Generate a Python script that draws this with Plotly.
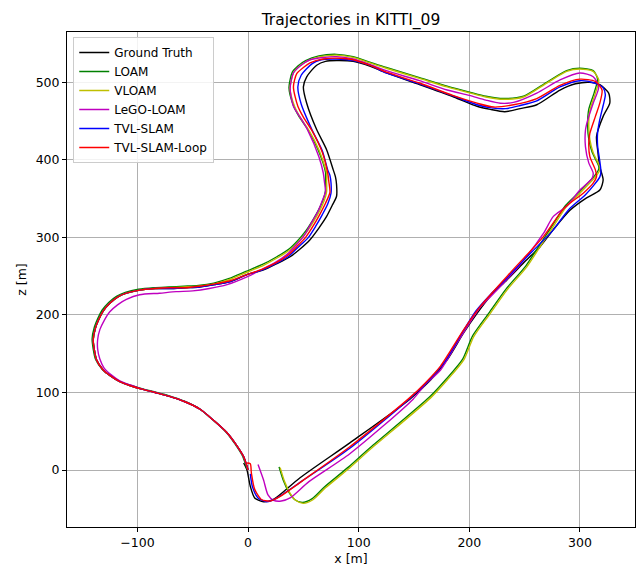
import plotly.graph_objects as go

# ---------------- data (metres) ----------------
gt_x = [0, -4, -11, -19, -32, -43, -57, -71, -84, -95, -107, -116, -125, -131, -137, -139, -140, -138, -135, -131,
        -125, -118, -110, -98, -84, -71, -57, -44, -30, -16, -1, 14, 26, 38, 47, 56, 64, 71, 76, 80,
        80, 79, 77, 71, 62, 53, 50, 53, 62, 70, 80, 95, 110, 125, 155, 186, 207, 219, 232, 246,
        261, 282, 296, 309, 318, 326, 327, 321, 315, 316, 318, 321, 318, 306, 291, 276, 264, 249, 234, 219,
        207, 195, 180, 165, 146, 92, 47, 23, 14, 6, 2, -1, -4]
gt_z = [0, 17, 33, 48, 65, 78, 88, 95, 100, 104, 109, 114, 122, 129, 142, 155, 168, 183, 194, 205,
        215, 223, 228, 232, 234, 234, 235, 236, 239, 243, 252, 258, 266, 275, 285, 297, 312, 327, 341, 353,
        368, 378, 387, 413, 439, 473, 494, 507, 522, 527, 528, 527, 521, 512, 497, 481, 469, 465, 462, 466,
        471, 490, 498, 500, 497, 486, 473, 456, 430, 413, 391, 374, 361, 351, 335, 310, 288, 267, 245, 224,
        202, 177, 142, 116, 91, 35, -10, -38, -41, -36, -21, 0, 9]

loam_x = [-1, -5, -12, -20, -33, -44, -58, -72, -85, -96, -108, -117, -126, -132, -138, -140, -141, -139, -136, -132,
          -126, -119, -111, -99, -85, -72, -58, -45, -31, -17, -2, 13, 26, 37, 45, 52, 58, 64, 68, 70,
          70, 70, 63, 54, 46, 41, 37, 40, 45, 52, 64, 80, 95, 110, 125, 155, 180, 201, 215, 231,
          249, 270, 288, 300, 312, 316, 313, 308, 307, 308, 311, 317, 317, 313, 299, 287, 274, 263, 251, 233,
          218, 203, 194, 179, 164, 109, 91, 69, 58, 49, 42, 37, 32, 28]
loam_z = [1, 18, 34, 49, 66, 79, 89, 96, 101, 105, 110, 115, 123, 130, 143, 156, 169, 184, 195, 206,
          216, 224, 229, 233, 235, 236, 237, 238, 241, 247, 256, 265, 275, 285, 296, 308, 321, 336, 349, 360,
          373, 384, 414, 439, 456, 470, 493, 513, 521, 528, 534, 536, 533, 526, 519, 506, 495, 487, 482, 479,
          482, 500, 515, 518, 515, 504, 487, 465, 444, 427, 410, 392, 388, 379, 358, 341, 313, 289, 263, 233,
          203, 173, 143, 117, 94, 27, 4, -22, -37, -42, -38, -29, -14, 4]

vloam_x = [0, -4, -11, -19, -32, -43, -57, -71, -84, -95, -107, -116, -125, -131, -137, -139, -140, -138, -135, -131,
           -125, -118, -110, -98, -84, -71, -57, -44, -30, -16, -1, 14, 27, 38, 46, 53, 59, 65, 69, 71,
           71, 71, 64, 55, 47, 42, 38, 41, 46, 53, 65, 80, 95, 110, 125, 155, 180, 201, 215, 231,
           249, 270, 288, 300, 312, 317, 314, 309, 308, 309, 312, 318, 318, 314, 300, 288, 275, 264, 252, 234,
           219, 204, 195, 180, 165, 110, 92, 70, 59, 50, 43, 38, 33, 29]
vloam_z = [0, 17, 33, 48, 65, 78, 88, 95, 100, 104, 109, 114, 122, 129, 142, 155, 168, 183, 194, 205,
           215, 223, 228, 232, 234, 235, 236, 237, 240, 246, 255, 264, 274, 284, 295, 307, 320, 335, 348, 359,
           372, 383, 413, 438, 455, 469, 492, 512, 520, 527, 533, 535, 532, 525, 518, 505, 494, 486, 481, 478,
           481, 499, 514, 517, 514, 503, 486, 464, 443, 426, 409, 391, 387, 378, 357, 340, 312, 288, 262, 232,
           202, 172, 142, 116, 93, 26, 3, -23, -38, -43, -39, -30, -15, 3]

lego_x = [0, -4, -11, -19, -32, -43, -57, -71, -84, -95, -107, -116, -124, -130, -134, -136, -136, -134, -130, -125,
          -118, -110, -98, -80, -65, -50, -35, -19, -1, 13, 25, 36, 44, 51, 57, 63, 67, 70,
          69, 68, 64, 54, 47, 41, 38, 41, 47, 56, 68, 80, 95, 110, 125, 155, 180, 200, 215, 228,
          240, 261, 282, 300, 312, 317, 312, 307, 305, 305, 308, 312, 311, 300, 288, 276, 267, 246, 225, 210,
          189, 174, 160, 149, 92, 55, 38, 30, 23, 18, 14, 9]
lego_z = [0, 17, 33, 48, 65, 78, 88, 95, 100, 104, 110, 115, 123, 131, 143, 156, 168, 181, 193, 204,
          213, 220, 226, 228, 230, 231, 234, 239, 249, 259, 268, 279, 291, 303, 318, 333, 347, 359,
          372, 383, 404, 438, 455, 469, 492, 512, 521, 529, 532, 533, 530, 523, 515, 502, 490, 483, 477, 473,
          474, 486, 503, 512, 507, 494, 473, 451, 438, 417, 396, 383, 376, 361, 340, 327, 305, 265, 232, 210,
          164, 129, 110, 91, 21, -15, -36, -40, -39, -32, -13, 7]

tvl_x = [0, -4, -11, -19, -32, -43, -57, -71, -84, -95, -107, -116, -125, -131, -137, -139, -140, -138, -135, -131,
         -125, -118, -110, -98, -84, -71, -57, -44, -30, -16, -1, 13, 25, 37, 45, 54, 61, 67, 72, 75,
         75, 74, 72, 67, 58, 48, 45, 48, 58, 66, 80, 95, 110, 125, 155, 186, 207, 220, 233, 246,
         261, 282, 300, 313, 321, 323, 321, 318, 316, 316, 318, 319, 318, 313, 305, 290, 275, 262, 246, 233,
         219, 206, 194, 178, 163, 146, 92, 49, 25, 17, 9, 4, 2]
tvl_z = [0, 17, 33, 48, 65, 78, 88, 95, 100, 104, 109, 114, 122, 129, 142, 155, 168, 183, 194, 205,
         215, 223, 228, 232, 234, 234, 235, 236, 239, 243, 252, 258, 266, 276, 287, 299, 314, 329, 343, 357,
         370, 380, 387, 412, 438, 472, 494, 509, 524, 529, 530, 528, 522, 512, 498, 482, 471, 467, 466, 470,
         476, 494, 502, 499, 493, 484, 470, 452, 435, 418, 398, 385, 378, 368, 355, 336, 308, 289, 266, 246,
         226, 205, 178, 140, 115, 92, 28, -14, -37, -41, -36, -22, -5]

loop_x = [0, -4, -11, -19, -32, -43, -57, -71, -84, -95, -107, -116, -125, -131, -137, -139, -140, -138, -135, -131,
          -125, -118, -110, -98, -84, -71, -57, -44, -30, -16, -1, 13, 25, 36, 44, 52, 59, 65, 70, 74,
          73, 72, 67, 58, 50, 45, 41, 44, 50, 56, 68, 83, 95, 110, 125, 155, 185, 207, 222, 240,
          261, 282, 300, 314, 320, 318, 314, 309, 308, 309, 314, 315, 312, 303, 286, 267, 240, 210, 195, 174,
          160, 146, 92, 50, 29, 20, 12, 6, 3, 2, -1]
loop_z = [0, 17, 33, 48, 65, 78, 88, 95, 100, 104, 109, 114, 122, 129, 142, 155, 168, 183, 194, 205,
          215, 223, 228, 232, 234, 235, 235, 237, 240, 244, 252, 259, 267, 277, 288, 300, 315, 330, 344, 358,
          372, 383, 410, 437, 455, 469, 494, 511, 519, 525, 530, 531, 529, 522, 513, 499, 483, 473, 468, 471,
          479, 496, 504, 501, 490, 473, 456, 434, 421, 404, 387, 378, 370, 357, 338, 301, 259, 211, 181, 134,
          112, 93, 30, -13, -34, -40, -38, -25, -4, 8, 9]

series = [
    ("Ground Truth", gt_x, gt_z, "#000000"),
    ("LOAM", loam_x, loam_z, "#008000"),
    ("VLOAM", vloam_x, vloam_z, "#bfbf00"),
    ("LeGO-LOAM", lego_x, lego_z, "#bf00bf"),
    ("TVL-SLAM", tvl_x, tvl_z, "#0000ff"),
    ("TVL-SLAM-Loop", loop_x, loop_z, "#ff0000"),
]

x_ticks = [-100, 0, 100, 200, 300]
z_ticks = [0, 100, 200, 300, 400, 500]

fig = go.Figure()
for name, xs, zs, col in series:
    fig.add_trace(go.Scatter(x=xs, y=zs, mode="lines", name=name,
                             line=dict(color=col, width=1.4, shape="spline", smoothing=0.7)))

font = "DejaVu Sans"
axis_common = dict(showline=True, mirror=True, linecolor="black", linewidth=1,
                   ticks="outside", ticklen=4, tickcolor="black", tickwidth=1,
                   showgrid=True, gridcolor="#b0b0b0", gridwidth=1, zeroline=False,
                   automargin=False,
                   tickfont=dict(family=font, size=12.5, color="black"))

fig.update_layout(
    width=641, height=566,
    margin=dict(l=67, r=6, t=32, b=39),
    paper_bgcolor="white", plot_bgcolor="white",
    title=dict(text="Trajectories in KITTI_09", xref="paper", x=0.5, xanchor="center",
               y=0.966, yanchor="middle",
               font=dict(family=font, size=15.5, color="black")),
    xaxis=dict(range=[-163.7, 349.8], tickvals=x_ticks,
               title=dict(text="x [m]", font=dict(family=font, size=12.5, color="black"), standoff=7),
               **axis_common),
    yaxis=dict(range=[-73.5, 564.8], tickvals=z_ticks,
               title=dict(text="z [m]", font=dict(family=font, size=12.5, color="black"), standoff=6),
               **axis_common),
    legend=dict(x=0.011, y=0.99, xanchor="left", yanchor="top",
                bgcolor="rgba(255,255,255,0.85)", bordercolor="#cccccc", borderwidth=1,
                font=dict(family=font, size=12, color="black"), tracegroupgap=0,
                itemwidth=30),
    showlegend=True,
)

fig.write_html("out.html")
